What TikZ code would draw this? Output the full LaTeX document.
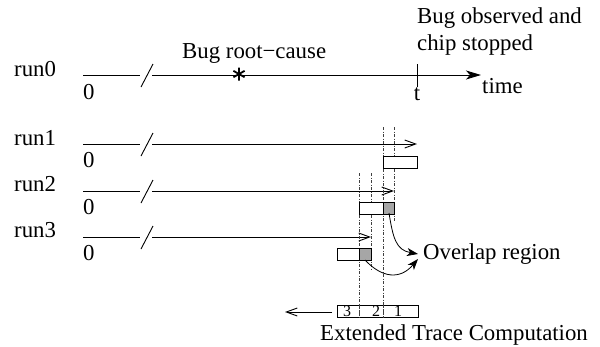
\documentclass[tikz,border=0pt]{standalone}
\usepackage{fontspec}
\setmainfont{Liberation Serif}
\usetikzlibrary{arrows.meta,calc}
\begin{document}
\begin{tikzpicture}[x=1pt,y=-1pt,
  lbl/.style={inner sep=0pt, anchor=base west, font=\fontsize{22.8}{27.5}\selectfont},
  small/.style={inner sep=0pt, anchor=base, font=\fontsize{16}{16}\selectfont},
  axis/.style={line width=0.9pt},
  guide/.style={line width=0.6pt, dash pattern=on 3pt off 1.5pt on 1pt off 1.5pt, black!75},
  cell/.style={draw, line width=0.8pt, fill=white, inner sep=0pt, anchor=north west, minimum height=11.5pt},
  hit/.style={draw, line width=0.8pt, fill=black!35, inner sep=0pt, anchor=north west, minimum height=11.5pt},
  openhead/.style={-{Straight Barb[length=11pt,width=8pt]}},
  fillhead/.style={-{Stealth[length=15pt,width=9pt,inset=4pt]}},
  curvehead/.style={-{Stealth[length=11pt,width=8pt,inset=3pt]}}
]
\useasboundingbox (0,0) rectangle (600,346);

% run0
\node[lbl] (run0) at (14,76) {run0};
\node[lbl] (z0) at (83,99) {0};
\coordinate (r0a) at (83,75);
\coordinate (r0b) at (140,75);
\coordinate (r0c) at (152,75);
\coordinate (r0e) at (481,75);
\coordinate (s0a) at (141,87);
\coordinate (s0b) at (153,64);
\draw[axis] (r0a) -- (r0b);
\draw[axis] (s0a) -- (s0b);
\draw[axis,fillhead] (r0c) -- (r0e);
\coordinate (tt) at (417,64);
\coordinate (tb) at (417,87);
\draw[axis] (tt) -- (tb);
\node[lbl, anchor=base] (t) at (417,100) {t};
\node[lbl] (time) at (482,93) {time};
\node[lbl] (root) at (182,58) {Bug root−cause};
\node[lbl] (obs1) at (417,23) {Bug observed and};
\node[lbl] (obs2) at (417,50) {chip stopped};
\coordinate (star) at (239,74);
\draw[line width=1.8pt] ($(star)+(0,-6.5)$) -- ($(star)+(0,6.5)$)
  ($(star)+(-5.6,-3.2)$) -- ($(star)+(5.6,3.2)$)
  ($(star)+(-5.6,3.2)$) -- ($(star)+(5.6,-3.2)$);

% runs 1-3
\foreach \n/\y/\e/\ly in {1/144/417/145, 2/191/394/191, 3/237/371/237}{
  \node[lbl] (run\n) at (14,\ly) {run\n};
  \node[lbl] (z\n) at (83,\y+23) {0};
  \coordinate (r\n a) at (83,\y);
  \coordinate (r\n b) at (140,\y);
  \coordinate (r\n c) at (152,\y);
  \coordinate (r\n e) at (\e,\y);
  \coordinate (s\n a) at (141,\y+12);
  \coordinate (s\n b) at (153,\y-11);
  \draw[axis] (r\n a) -- (r\n b);
  \draw[axis] (s\n a) -- (s\n b);
  \draw[axis,openhead] (r\n c) -- (r\n e);
}

% guide lines
\coordinate (g1t) at (383,127); \coordinate (g1b) at (383,317);
\coordinate (g2t) at (394,127); \coordinate (g2b) at (394,222);
\coordinate (g3t) at (359,173); \coordinate (g3b) at (359,317);
\coordinate (g4t) at (371,173); \coordinate (g4b) at (371,270);
\draw[guide] (g1t) -- (g1b);
\draw[guide] (g2t) -- (g2b);
\draw[guide] (g3t) -- (g3b);
\draw[guide] (g4t) -- (g4b);

% boxes
\node[cell, minimum width=34pt] (b1) at (383,156) {};
\node[cell, minimum width=35pt] (b2) at (359,202) {};
\node[hit, minimum width=11pt] (h2) at (383,202) {};
\node[cell, minimum width=34pt] (b3) at (337,248) {};
\node[hit, minimum width=12pt] (h3) at (359,248) {};

% trace box
\node[draw, line width=0.8pt, inner sep=0pt, anchor=north west, minimum width=81pt, minimum height=12pt] (tr) at (337,305) {};
\draw[guide] (359,305) -- (359,317);
\draw[guide] (383,305) -- (383,317);
\node[small] (n3) at (347,316.5) {3};
\node[small] (n2) at (376,316.5) {2};
\node[small] (n1) at (398,316.5) {1};
\coordinate (la) at (332,312);
\coordinate (lb) at (285,312);
\draw[axis,openhead] (la) -- (lb);
\node[lbl] (ext) at (320,340) {Extended Trace Computation};

% overlap
\node[lbl] (ov) at (423,259) {Overlap region};
\coordinate (c1s) at (389,213);
\coordinate (c1e) at (418,254);
\coordinate (c2s) at (365,260);
\coordinate (c2e) at (418,259);
\draw[line width=0.8pt, curvehead] (c1s) .. controls (393,238) and (396,250) .. (c1e);
\draw[line width=0.8pt, curvehead] (c2s) .. controls (382,278) and (400,280) .. (c2e);
\end{tikzpicture}
\end{document}
